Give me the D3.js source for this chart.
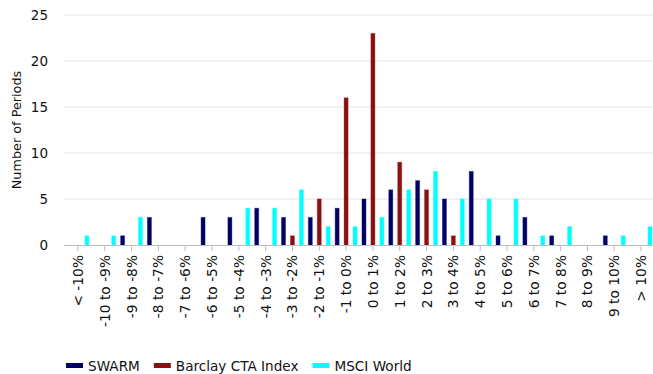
<!DOCTYPE html>
<html>
<head>
<meta charset="utf-8">
<script src="https://cdn.jsdelivr.net/npm/d3@7"></script>
<style>
  html, body { margin: 0; padding: 0; background: #fff; }
  svg { display: block; font-family: Verdana, "DejaVu Sans", sans-serif; }
</style>
</head>
<body>
<svg id="chart" width="653" height="374"></svg>
<script>
// Return buckets (monthly periods)
const categories = ["< -10%", "-10 to -9%", "-9 to -8%", "-8 to -7%", "-7 to -6%", "-6 to -5%",
  "-5 to -4%", "-4 to -3%", "-3 to -2%", "-2 to -1%", "-1 to 0%", "0 to 1%", "1 to 2%",
  "2 to 3%", "3 to 4%", "4 to 5%", "5 to 6%", "6 to 7%", "7 to 8%", "8 to 9%", "9 to 10%", "> 10%"];

const seriesNames = ["SWARM", "Barclay CTA Index", "MSCI World"];
const seriesColors = ["#000066", "#8b1111", "#00ffff"];

const swarm   = [0, 0, 1, 3, 0, 3, 3, 4, 3, 3, 4, 5, 6, 7, 5, 8, 1, 3, 1, 0, 1, 0];
const barclay = [0, 0, 0, 0, 0, 0, 0, 0, 1, 5, 16, 23, 9, 6, 1, 0, 0, 0, 0, 0, 0, 0];
const msci    = [1, 1, 3, 0, 0, 0, 4, 4, 6, 2, 2, 3, 6, 8, 5, 5, 5, 1, 2, 0, 1, 2];

const yTicks = [0, 5, 10, 15, 20, 25];

const seriesValues = [swarm, barclay, msci];

const svg = d3.select("#chart");

const x = d3.scaleBand().domain(categories).range([64.5, 654.5]).padding(0);
const xInner = d3.scaleBand().domain(seriesNames).range([0, x.bandwidth()]).padding(0);
const y = d3.scaleLinear().domain([0, 25]).range([245, 15]);

const barW = 4;

// Horizontal gridlines
svg.append("g")
  .selectAll("line")
  .data(yTicks.filter(d => d > 0))
  .join("line")
  .attr("x1", 64).attr("x2", 653)
  .attr("y1", d => y(d)).attr("y2", d => y(d))
  .attr("stroke", "#ececec")
  .attr("stroke-width", 1.5);

// Y axis labels
const yAxis = d3.axisLeft(y).tickValues(yTicks).tickSize(0).tickPadding(0);
svg.append("g")
  .attr("transform", "translate(48,0)")
  .call(yAxis)
  .call(g => g.select(".domain").remove())
  .call(g => g.selectAll("text")
    .attr("font-size", 13.5)
    .attr("font-family", "Verdana, 'DejaVu Sans', sans-serif")
    .attr("fill", "#111"));

// Y axis title
svg.append("text")
  .attr("transform", "translate(16,130) rotate(-90)")
  .attr("text-anchor", "middle")
  .attr("dominant-baseline", "central")
  .attr("font-size", 12.8)
  .attr("fill", "#111")
  .text("Number of Periods");

// Bars
const groups = svg.append("g")
  .selectAll("g")
  .data(categories)
  .join("g")
  .attr("transform", d => `translate(${x(d)},0)`);

groups.selectAll("rect")
  .data((c, i) => seriesNames.map((s, j) => ({ s, j, v: seriesValues[j][i] })))
  .join("rect")
  .attr("x", d => xInner(d.s) + (xInner.bandwidth() - barW) / 2)
  .attr("width", barW)
  .attr("y", d => y(d.v))
  .attr("height", d => y(0) - y(d.v))
  .attr("fill", d => seriesColors[d.j])
  .attr("stroke", d => seriesColors[d.j])
  .attr("stroke-opacity", 0.35)
  .attr("stroke-width", 1);

// X axis
const xAxis = d3.axisBottom(x).tickSizeInner(6).tickSizeOuter(0).tickPadding(4);
svg.append("g")
  .attr("transform", `translate(0,${y(0)})`)
  .call(xAxis)
  .call(g => g.select(".domain").attr("stroke", "#bdbdbd").attr("d", "M64,0.5H653"))
  .call(g => g.selectAll(".tick line").attr("stroke", "#bdbdbd"))
  .call(g => g.selectAll("text")
    .attr("font-size", 13.8)
    .attr("font-family", "Verdana, 'DejaVu Sans', sans-serif")
    .attr("fill", "#111")
    .attr("text-anchor", "end")
    .attr("dominant-baseline", "central")
    .attr("transform", "rotate(-90)")
    .attr("x", -10)
    .attr("y", 0)
    .attr("dy", null));

// Legend
const legend = svg.append("g").attr("transform", "translate(66,365.5)");
let lx = 0;
seriesNames.forEach((name, i) => {
  const item = legend.append("g").attr("transform", `translate(${lx},0)`);
  item.append("rect")
    .attr("x", 0).attr("y", -2.5)
    .attr("width", 17).attr("height", 5)
    .attr("fill", seriesColors[i]);
  const t = item.append("text")
    .attr("x", 22).attr("y", 0)
    .attr("dominant-baseline", "central")
    .attr("font-size", 13.6)
    .attr("fill", "#111")
    .text(name);
  lx += 22 + t.node().getComputedTextLength() + 14;
});
</script>
</body>
</html>
